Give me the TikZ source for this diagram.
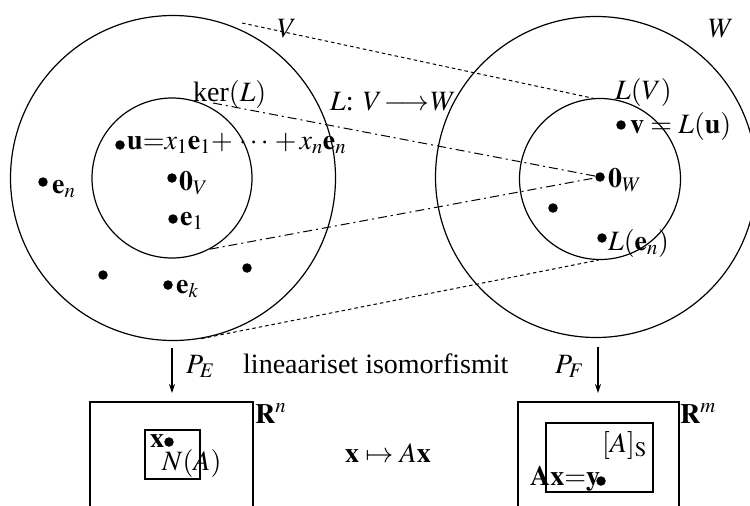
\documentclass[tikz,border=0pt]{standalone}
\usepackage{mathptmx}
\usepackage{fontspec}
\setmainfont{Liberation Serif}
\usetikzlibrary{arrows.meta}
\tikzset{
  lbl/.style={font=\fontsize{28}{32}\selectfont, inner sep=0pt, anchor=base west},
  dotpt/.style={circle, fill, inner sep=0pt, minimum size=9.5pt},
  ring/.style={circle, draw, line width=1.2pt, inner sep=0pt},
  shortdash/.style={line width=1pt, dash pattern=on 3.5pt off 3pt},
  longdash/.style={line width=1pt, dash pattern=on 9pt off 4pt on 2pt off 4pt},
  boxx/.style={draw, line width=1.5pt, inner sep=0pt, anchor=north west},
  proj/.style={-{Stealth[length=9pt,width=6pt]}, line width=1.2pt}
}
\begin{document}
\begin{tikzpicture}[x=1pt,y=-1pt]
\useasboundingbox (0,0) rectangle (750,506);
\clip (0,0) rectangle (750,506);
% spaces
\node[ring, minimum size=325pt] (Vbig) at (173,178) {};
\node[ring, minimum size=160pt] (Vsmall) at (172,178) {};
\node[ring, minimum size=321pt] (Wbig) at (596,177) {};
\node[ring, minimum size=161pt] (Wsmall) at (600,179) {};
% points
\node[dotpt] (du) at (120,145) {};
\node[dotpt] (d0V) at (172,178) {};
\node[dotpt] (de1) at (173,219) {};
\node[dotpt] (den) at (43,182) {};
\node[dotpt] (dA) at (103,275) {};
\node[dotpt] (dB) at (247,268) {};
\node[dotpt] (dek) at (168,285) {};
\node[dotpt] (dv) at (621,125) {};
\node[dotpt] (dW) at (600,177) {};
\node[dotpt] (dC) at (553,208) {};
\node[dotpt] (dLe) at (602,238) {};
% connectors between the spaces
\coordinate (vtop) at (242,23);
\coordinate (kertop) at (213,103);
\draw[shortdash] (vtop) -- (Wsmall.95);
\draw[longdash] (kertop) -- (dW.center);
\draw[longdash] (Vsmall.-62) -- (dW.center);
\draw[shortdash] (Vbig.-80) -- (Wsmall.-91);
% labels top
\node[lbl] (lV) at (277,37) {$V$};
\node[lbl] (lW) at (708,37) {$W$};
\node[lbl] (lker) at (193,101) {ker$(L)$};
\node[lbl] (lL) at (330,110) {$L$: $V\mkern-3mu\longrightarrow\mkern-3mu W$};
\node[lbl] (lLV) at (615,99) {$L(V)$};
\node[lbl] (lu) at (127,149) {$\mathbf{u}{=}x_1\mathbf{e}_1{+}\,\cdots\,{+}\,x_n\mathbf{e}_n$};
\node[lbl] (l0V) at (179,190) {$\mathbf{0}_V$};
\node[lbl] (le1) at (180,225) {$\mathbf{e}_1$};
\node[lbl] (len) at (52,193) {$\mathbf{e}_n$};
\node[lbl] (lek) at (176,293) {$\mathbf{e}_k$};
\node[lbl] (lv) at (630,133) {$\mathbf{v}=L(\mathbf{u})$};
\node[lbl] (l0W) at (608,187) {$\mathbf{0}_W$};
\node[lbl] (lLe) at (608,250) {$L(\mathbf{e}_n)$};
% bottom
\node[boxx, minimum width=163pt, minimum height=140pt] (Rn) at (89,401) {};
\node[boxx, minimum width=55pt, minimum height=49pt] (NA) at (144,429) {};
\node[boxx, minimum width=161pt, minimum height=140pt] (Rm) at (517,401) {};
\node[boxx, minimum width=107pt, minimum height=69pt] (AS) at (545,422) {};
\coordinate (pe) at (172,348);
\coordinate (pf) at (598,347);
\draw[proj, shorten >=8pt] (pe) -- (pe |- Rn.north);
\draw[proj, shorten >=8pt] (pf) -- (pf |- Rm.north);
\node[lbl] (lPE) at (186,373) {$P_E$};
\node[lbl] (lPF) at (555,373) {$P_F$};
\node[lbl] (liso) at (243,373) {lineaariset isomorfismit};
\node[lbl] (lRn) at (255,423) {$\mathbf{R}^n$};
\node[lbl] (lRm) at (680,423) {$\mathbf{R}^m$};
\node[dotpt] (dx) at (169,442) {};
\node[lbl] (lx) at (150,447) {$\mathbf{x}$};
\node[lbl] (lNA) at (162,470) {$N(A)$};
\node[lbl] (lmap) at (345,462) {$\mathbf{x}\mapsto A\mathbf{x}$};
\node[lbl] (lAS) at (602,452) {$[A]_{\mathrm{S}}$};
\node[dotpt] (dy) at (601,481) {};
\node[lbl] (lAx) at (530,485) {$\mathbf{Ax{=}y}$};
\end{tikzpicture}
\end{document}
